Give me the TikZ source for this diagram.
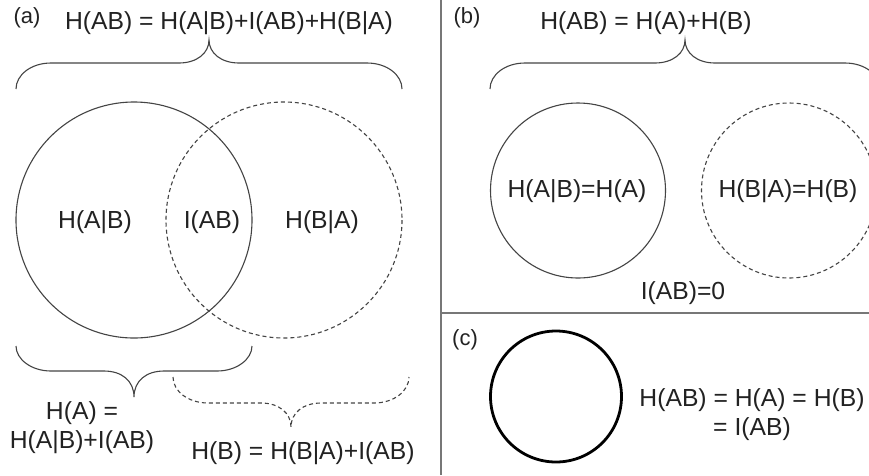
\documentclass[tikz,border=0pt]{standalone}
\usepackage{fontspec}
\setmainfont{Liberation Sans}
\newcommand\mybrace[6][]{%
  \pgfmathsetmacro\bxm{(#2+#3)/2}%
  \pgfmathsetmacro\bs{sign(#4-#5)}%
  \draw[#1] (#2,#4) .. controls (#2,#5+12*\bs) and (#2+15,#5) .. (#2+35,#5)
    -- (\bxm-30,#5) .. controls (\bxm-12,#5) and (\bxm,#5-10*\bs) .. (\bxm,#6)
    .. controls (\bxm,#5-10*\bs) and (\bxm+12,#5) .. (\bxm+30,#5)
    -- (#3-35,#5) .. controls (#3-15,#5) and (#3,#5+12*\bs) .. (#3,#4);%
}
\definecolor{ink}{HTML}{222222}
\definecolor{stroke}{HTML}{444444}
\definecolor{divider}{HTML}{777777}
\tikzset{
  txt/.style={inner sep=0pt, text=ink, font=\fontsize{24.7}{29}\selectfont, align=center},
  lbl/.style={inner sep=0pt, text=ink, font=\fontsize{22}{26}\selectfont},
  solidc/.style={draw=stroke, line width=1.1pt},
  dashc/.style={draw=stroke, line width=1.1pt, dash pattern=on 4pt off 3pt},
  thickc/.style={draw=black, line width=2.8pt},
  divline/.style={draw=divider, line width=1.6pt}
}
\begin{document}
\begin{tikzpicture}[x=1pt,y=-1pt]
\useasboundingbox (0,0) rectangle (869,475);
\clip (0,0) rectangle (869,475);
\fill[white] (0,0) rectangle (869,475);
% dividers
\coordinate (vt) at (441,0);
\coordinate (vb) at (441,475);
\coordinate (hl) at (441,313);
\coordinate (hr) at (869,313);
\draw[divline] (vt) -- (vb);
\draw[divline] (hl) -- (hr);
% panel (a)
\node[lbl] (la) at (27,18) {(a)};
\node[txt] (ta) at (229,23) {H(AB) = H(A|B)+I(AB)+H(B|A)};
\mybrace[solidc]{16}{402}{89}{63}{40}
\draw[solidc] (134,220) circle (118);
\draw[dashc] (284,220) circle (118);
\node[txt] (hab) at (95,222) {H(A|B)};
\node[txt] (iab) at (212,222) {I(AB)};
\node[txt] (hba) at (322,222) {H(B|A)};
\mybrace[solidc]{16}{252}{346}{371}{397}
\mybrace[dashc]{173}{409}{377}{403}{427}
\node[txt] (ha) at (82,428) {H(A) =\\H(A|B)+I(AB)};
\node[txt] (hb) at (303,453) {H(B) = H(B|A)+I(AB)};
% panel (b)
\node[lbl] (lb) at (467,18) {(b)};
\node[txt] (tb) at (646,23) {H(AB) = H(A)+H(B)};
\mybrace[solidc]{490}{880}{89}{63}{40}
\draw[solidc] (578,190.5) circle (87.5);
\draw[dashc] (789,190.5) circle (87.5);
\node[txt] (hab2) at (577,191) {H(A|B)=H(A)};
\node[txt] (hba2) at (788,191) {H(B|A)=H(B)};
\node[txt] (iab0) at (683,293) {I(AB)=0};
% panel (c)
\node[lbl] (lc) at (465,340) {(c)};
\draw[thickc] (556,396.5) circle (65.5);
\node[txt] (hc) at (752,415) {H(AB) = H(A) = H(B)\\= I(AB)};
\end{tikzpicture}
\end{document}
